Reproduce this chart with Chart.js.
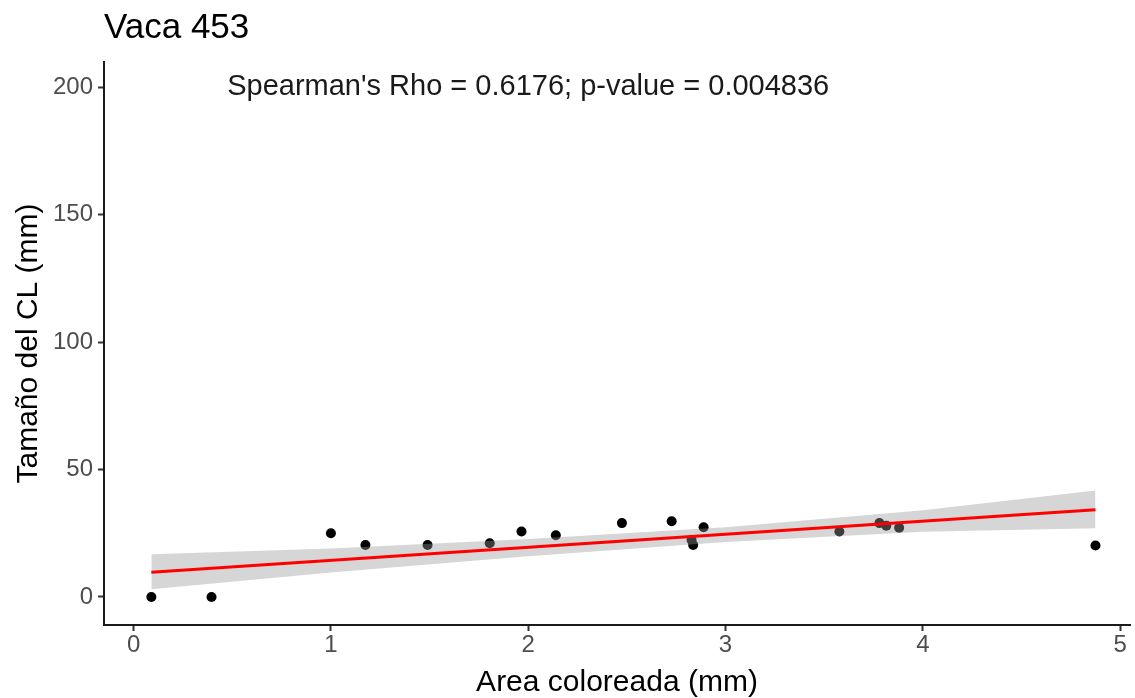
<!DOCTYPE html>
<html>
<head>
<meta charset="utf-8">
<script src="https://cdn.jsdelivr.net/npm/chart.js@4.4.1/dist/chart.umd.min.js"></script>
<style>
  html, body { margin: 0; padding: 0; background: #fff; }
</style>
</head>
<body>
<canvas id="chart" width="1135" height="698"></canvas>
<script>
// observed points
const areaX = [0.09, 0.395, 1.0, 1.175, 1.49, 1.805, 1.966, 2.14, 2.475, 2.727, 2.828, 2.836, 2.889, 3.577, 3.78, 3.815, 3.88, 4.875];
const sizeY = [0, 0, 25.0, 20.4, 20.4, 21.1, 25.7, 24.2, 29.0, 29.7, 22.4, 20.4, 27.4, 25.7, 29.0, 28.0, 27.2, 20.2];

// linear fit and its confidence band
const fitX = [0.09, 4.875];
const fitY = [9.7, 34.2];
const bandX = [0.09, 1, 2, 3, 4, 4.875];
const bandUpper = [16.8, 19.0, 22.8, 27.4, 34.0, 41.8];
const bandLower = [3.0, 9.6, 16.0, 21.6, 25.6, 27.0];

const xTicks = [0, 1, 2, 3, 4, 5];
const yTicks = [0, 50, 100, 150, 200];

const chartTitle = 'Vaca 453';
const statsLabel = "Spearman's Rho = 0.6176; p-value = 0.004836";
const statsAt = { x: 2, y: 200 };

const FONT = '"Liberation Sans", Arial, sans-serif';

const points = areaX.map((x, i) => ({ x: x, y: sizeY[i] }));
const fitLine = fitX.map((x, i) => ({ x: x, y: fitY[i] }));
const upper = bandX.map((x, i) => ({ x: x, y: bandUpper[i] }));
const lower = bandX.map((x, i) => ({ x: x, y: bandLower[i] }));

// draws the Spearman annotation in data coordinates
const statsText = {
    id: 'statsText',
    afterDatasetsDraw(chart) {
        const { ctx, scales } = chart;
        ctx.save();
        ctx.font = '29px ' + FONT;
        ctx.fillStyle = '#1a1a1a';
        ctx.textAlign = 'center';
        ctx.textBaseline = 'middle';
        ctx.fillText(statsLabel, scales.x.getPixelForValue(statsAt.x), scales.y.getPixelForValue(statsAt.y));
        ctx.restore();
    }
};

const tickFont = { family: FONT, size: 24 };
const axisGrid = {
    display: true,
    drawOnChartArea: false,
    drawTicks: true,
    tickLength: 6,
    tickColor: '#333333',
    tickWidth: 2
};

new Chart(document.getElementById('chart'), {
    type: 'scatter',
    data: {
        datasets: [
            {
                label: 'obs',
                data: points,
                backgroundColor: '#000000',
                borderWidth: 0,
                pointRadius: 5,
                order: 3
            },
            {
                label: 'lower',
                data: lower,
                showLine: true,
                pointRadius: 0,
                borderWidth: 0,
                borderColor: 'rgba(0,0,0,0)',
                fill: false,
                order: 2
            },
            {
                label: 'upper',
                data: upper,
                showLine: true,
                pointRadius: 0,
                borderWidth: 0,
                borderColor: 'rgba(0,0,0,0)',
                backgroundColor: 'rgba(153,153,153,0.4)',
                fill: '-1',
                order: 2
            },
            {
                label: 'fit',
                data: fitLine,
                showLine: true,
                pointRadius: 0,
                borderColor: '#ff0000',
                borderWidth: 3,
                fill: false,
                order: 1
            }
        ]
    },
    options: {
        responsive: false,
        animation: false,
        layout: { padding: 0 },
        plugins: {
            legend: { display: false },
            tooltip: { enabled: false },
            title: {
                display: true,
                text: chartTitle,
                align: 'start',
                fullSize: false,
                color: '#000000',
                font: { family: FONT, size: 35, weight: 'normal' },
                padding: { top: 7, bottom: 13 }
            }
        },
        scales: {
            x: {
                type: 'linear',
                min: -0.15,
                max: 5.05,
                afterFit(scale) { scale.height = 73; },
                afterBuildTicks(scale) { scale.ticks = xTicks.map(v => ({ value: v })); },
                ticks: { font: tickFont, color: '#4d4d4d', padding: 0, maxRotation: 0 },
                grid: axisGrid,
                border: { display: true, color: '#1a1a1a', width: 2 },
                title: {
                    display: true,
                    text: 'Area coloreada (mm)',
                    color: '#000000',
                    font: { family: FONT, size: 30 },
                    padding: { top: 0, bottom: -3 }
                }
            },
            y: {
                type: 'linear',
                min: -11,
                max: 210,
                afterFit(scale) { scale.width = 104; },
                afterBuildTicks(scale) { scale.ticks = yTicks.map(v => ({ value: v })); },
                ticks: { font: tickFont, color: '#4d4d4d', padding: 5 },
                grid: axisGrid,
                border: { display: true, color: '#1a1a1a', width: 2 },
                title: {
                    display: true,
                    text: 'Tamaño del CL (mm)',
                    color: '#000000',
                    font: { family: FONT, size: 30 },
                    padding: { top: 11, bottom: 0 }
                }
            }
        }
    },
    plugins: [statsText]
});
</script>
</body>
</html>
